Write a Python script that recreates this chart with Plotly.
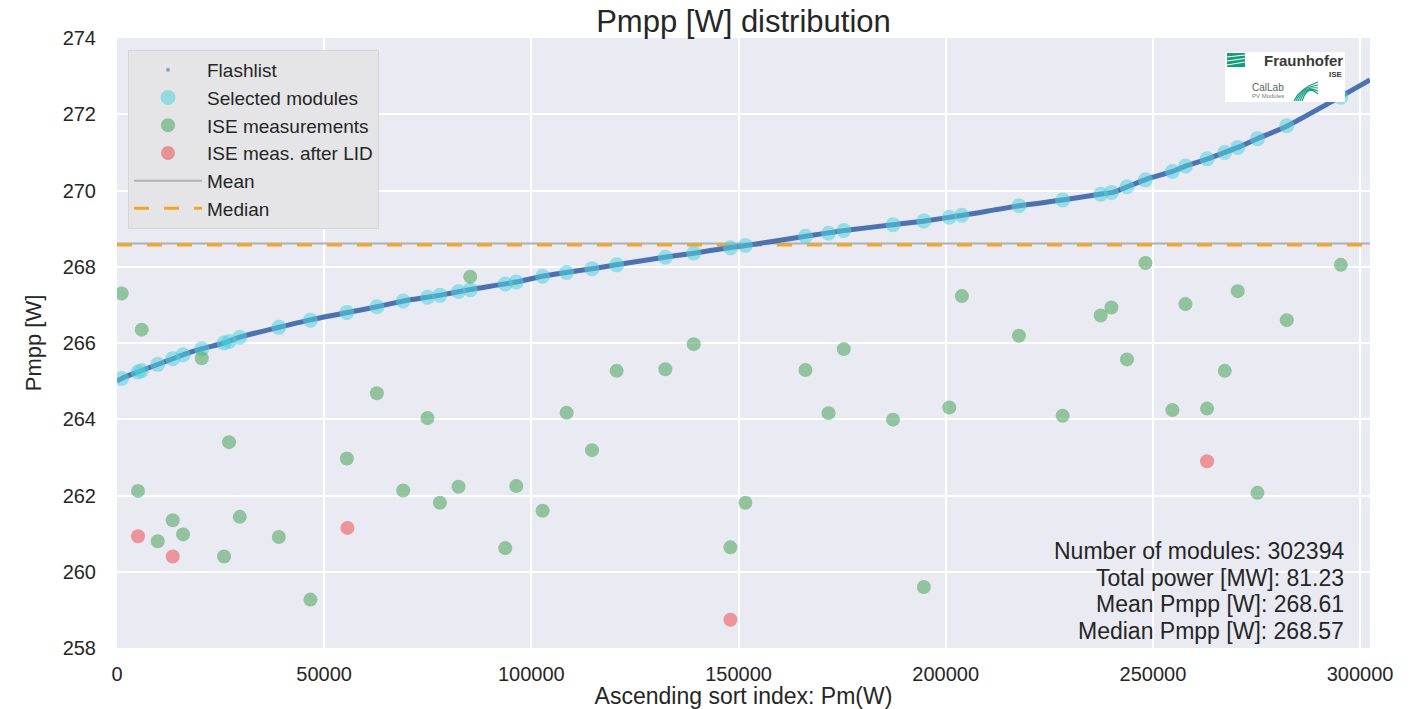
import plotly.graph_objects as go

# ---------------- data ----------------
n_modules = 302394
total_power_mw = 81.23
mean_pmpp = 268.61
median_pmpp = 268.57

# Flashlist: sorted Pmpp versus ascending sort index (read control points)
flash_x = [0, 1690, 5310, 10140, 13770, 16180, 20530, 25840, 29460, 38640,
           46370, 55550, 62790, 69070, 77760, 85010, 96360, 102640, 108430,
           114710, 120510, 132100, 138860, 147800, 151420, 166150, 175570,
           187160, 194890, 204070, 217830, 228220, 237150, 240290, 243920,
           248500, 254780, 258160, 263720, 267340, 270960, 275070, 282560,
           295110, 302394]
flash_y = [265.0, 265.1, 265.25, 265.45, 265.6, 265.7, 265.85, 266.0, 266.15,
           266.4, 266.6, 266.8, 266.95, 267.1, 267.25, 267.4, 267.6, 267.75,
           267.85, 267.95, 268.05, 268.25, 268.35, 268.5, 268.55, 268.8,
           268.95, 269.1, 269.2, 269.35, 269.6, 269.75, 269.9, 269.95, 270.1,
           270.3, 270.5, 270.65, 270.85, 271.0, 271.15, 271.35, 271.7, 272.45,
           272.9]

# Selected modules (sort index) and their flashlist Pmpp
sel_x = [1135, 5070, 5960, 9830, 13450, 15940, 20450, 25840, 27050, 29630,
         39050, 46680, 55470, 62720, 69070, 74940, 77930, 82420, 85250, 93700,
         96360, 102710, 108510, 114640, 120580, 132340, 139180, 148040, 151660,
         166150, 171710, 175400, 187290, 194730, 200860, 203900, 217670,
         228220, 237400, 239990, 243750, 248200, 254700, 257850, 263070,
         267340, 270480, 275240, 282310, 295350]
sel_y = [265.07, 265.24, 265.28, 265.44, 265.59, 265.69, 265.85, 266.0, 266.04,
         266.15, 266.41, 266.6, 266.8, 266.95, 267.1, 267.2, 267.25, 267.35,
         267.4, 267.55, 267.6, 267.75, 267.85, 267.95, 268.05, 268.25, 268.36,
         268.5, 268.56, 268.8, 268.88, 268.95, 269.1, 269.2, 269.3, 269.35,
         269.6, 269.75, 269.9, 269.95, 270.1, 270.28, 270.5, 270.64, 270.83,
         271.0, 271.13, 271.36, 271.7, 272.45]

# ISE measurements of the selected modules
ise_y = [267.3, 262.12, 266.35, 260.8, 261.35, 260.98, 265.6, 260.4, 263.4,
         261.44, 260.91, 259.27, 262.97, 264.68, 262.13, 264.03, 261.81,
         262.23, 267.74, 260.62, 262.25, 261.6, 264.17, 263.19, 265.27,
         265.31, 265.97, 260.64, 261.81, 265.29, 264.16, 265.84, 263.99,
         259.6, 264.31, 267.23, 266.19, 264.09, 266.72, 266.93, 265.57, 268.1,
         264.24, 267.02, 264.28, 265.27, 267.36, 262.07, 266.6, 268.05]

# ISE measurements after LID
lid_x = [5070, 13450, 55610, 148040, 263070]
lid_y = [260.93, 260.4, 261.15, 258.74, 262.9]

x_ticks = [0, 50000, 100000, 150000, 200000, 250000, 300000]
y_ticks = [258, 260, 262, 264, 266, 268, 270, 272, 274]

# ---------------- figure ----------------
FONT = "Liberation Sans, Arial, sans-serif"
TXT = "#262626"

fig = go.Figure()

fig.add_trace(go.Scatter(x=[0, n_modules], y=[mean_pmpp, mean_pmpp], mode="lines",
                         name="Mean", legendrank=5,
                         line=dict(color="#b0b0b0", width=2)))
fig.add_trace(go.Scatter(x=[0, n_modules], y=[median_pmpp, median_pmpp], mode="lines",
                         name="Median", legendrank=6,
                         line=dict(color="#f5a623", width=3, dash="15px,15px")))
fig.add_trace(go.Scatter(x=flash_x, y=flash_y, mode="lines", name="Flashlist",
                         legendgroup="flash", showlegend=False,
                         line=dict(color="#4c72b0", width=5, shape="spline", smoothing=0.6)))
fig.add_trace(go.Scatter(x=[None], y=[None], mode="markers", name="Flashlist",
                         legendgroup="flash", legendrank=1,
                         marker=dict(color="#8e9cc6", size=4)))
fig.add_trace(go.Scatter(x=sel_x, y=sel_y, mode="markers", name="Selected modules",
                         legendrank=2,
                         marker=dict(color="rgba(80,210,222,0.55)", size=15, line=dict(width=0))))
fig.add_trace(go.Scatter(x=sel_x, y=ise_y, mode="markers", name="ISE measurements",
                         legendrank=3,
                         marker=dict(color="rgba(85,168,104,0.6)", size=14, line=dict(width=0))))
fig.add_trace(go.Scatter(x=lid_x, y=lid_y, mode="markers", name="ISE meas. after LID",
                         legendrank=4,
                         marker=dict(color="rgba(235,90,95,0.6)", size=14, line=dict(width=0))))

# plot area in pixels: x 117..1370, y 38..648
L, R, T, B = 117, 1370, 38, 648
W, H = 1427, 709


def px(xp):
    return (xp - L) / (R - L)


def py(yp):
    return (B - yp) / (B - T)


fig.update_layout(
    width=W, height=H,
    margin=dict(l=L, r=W - R, t=T, b=H - B, pad=0, autoexpand=False),
    paper_bgcolor="white",
    plot_bgcolor="#eaeaf2",
    font=dict(family=FONT, color=TXT, size=20),
    title=dict(text="Pmpp [W] distribution", x=0.5, xref="paper",
               y=1 - 21 / H, yanchor="middle", xanchor="center",
               font=dict(size=31, color=TXT, family=FONT)),
    showlegend=True,
    legend=dict(x=px(128), y=py(50), xanchor="left", yanchor="top",
                bgcolor="#e5e5e8", bordercolor="#d6d6d6", borderwidth=1,
                font=dict(size=19, color=TXT, family=FONT),
                itemwidth=68, tracegroupgap=0, traceorder="normal"),
)

fig.update_xaxes(range=[0, n_modules], tickvals=x_ticks, tickformat="d",
                 automargin=False,
                 showgrid=True, gridcolor="white", gridwidth=2, zeroline=False,
                 showline=False, ticks="outside", ticklen=8, tickcolor="rgba(0,0,0,0)",
                 tickfont=dict(size=20, color=TXT, family=FONT),
                 title=dict(text="Ascending sort index: Pm(W)", standoff=4,
                            font=dict(size=23, color=TXT, family=FONT)))
fig.update_yaxes(range=[258, 274], tickvals=y_ticks, automargin=False,
                 showgrid=True, gridcolor="white", gridwidth=2, zeroline=False,
                 showline=False, ticks="outside", ticklen=16, tickcolor="rgba(0,0,0,0)",
                 tickfont=dict(size=20, color=TXT, family=FONT),
                 title=dict(text="Pmpp [W]", standoff=14,
                            font=dict(size=22, color=TXT, family=FONT)))

# statistics box (bottom right)
stats_lines = [
    f"Number of modules: {n_modules}",
    f"Total power [MW]: {total_power_mw:.2f}",
    f"Mean Pmpp [W]: {mean_pmpp:.2f}",
    f"Median Pmpp [W]: {median_pmpp:.2f}",
]
for i, line in enumerate(stats_lines):
    fig.add_annotation(text=line, xref="paper", yref="paper", x=px(1346),
                       y=py(551 + i * 26.5), xanchor="right", yanchor="middle",
                       showarrow=False, font=dict(size=23, color=TXT, family=FONT))

# Fraunhofer ISE / CalLab logo (drawn with shapes and text)
GREEN = "#179c7d"
shapes = [
    dict(type="rect", xref="paper", yref="paper", x0=px(1225), x1=px(1345),
         y0=py(102), y1=py(52), fillcolor="white", line=dict(width=0), layer="above"),
    dict(type="rect", xref="paper", yref="paper", x0=px(1227), x1=px(1245),
         y0=py(67), y1=py(53), fillcolor=GREEN, line=dict(width=0), layer="above"),
]
for k in range(3):
    shapes.append(dict(type="line", xref="paper", yref="paper",
                       x0=px(1227), y0=py(57 + 4 * k), x1=px(1245), y1=py(55 + 3.5 * k),
                       line=dict(color="white", width=1), layer="above"))
for k in range(5):
    x0, y0 = px(1294 + 2 * k), py(101)
    xc, yc = px(1300 + 2 * k), py(88 - k)
    x1, y1 = px(1318), py(82 + 3 * k)
    shapes.append(dict(type="path", xref="paper", yref="paper",
                       path=f"M {x0} {y0} Q {xc} {yc} {x1} {y1}",
                       line=dict(color=GREEN, width=1.2), layer="above"))
fig.update_layout(shapes=shapes)

fig.add_annotation(text="<b>Fraunhofer</b>", xref="paper", yref="paper", x=px(1345), y=py(61),
                   xanchor="right", yanchor="middle", showarrow=False,
                   font=dict(size=15, color="#3a3a3a", family=FONT))
fig.add_annotation(text="<b>ISE</b>", xref="paper", yref="paper", x=px(1345), y=py(74),
                   xanchor="right", yanchor="middle", showarrow=False,
                   font=dict(size=8, color="#3a3a3a", family=FONT))
fig.add_annotation(text="CalLab", xref="paper", yref="paper", x=px(1250), y=py(88),
                   xanchor="left", yanchor="middle", showarrow=False,
                   font=dict(size=10, color="#4f6a60", family=FONT))
fig.add_annotation(text="PV Modules", xref="paper", yref="paper", x=px(1250), y=py(96),
                   xanchor="left", yanchor="middle", showarrow=False,
                   font=dict(size=6, color="#777777", family=FONT))

fig.write_html("out.html")
